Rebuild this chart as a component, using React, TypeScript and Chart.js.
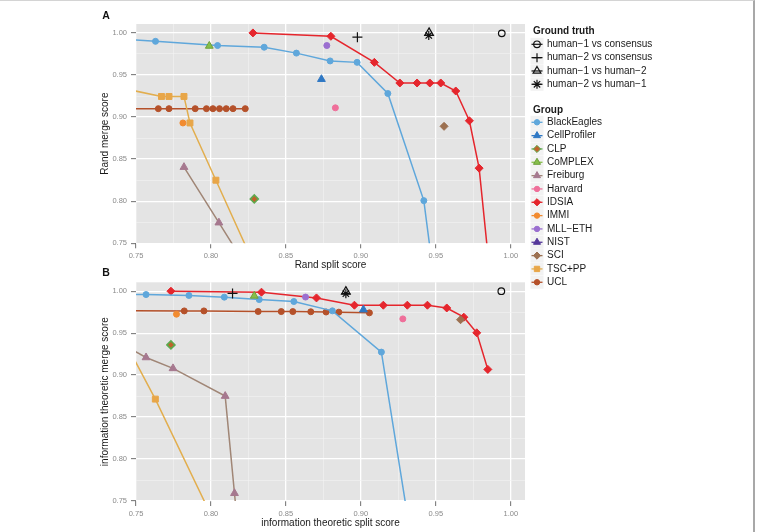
import React, { useEffect, useRef } from 'react';
import { Chart, registerables } from 'chart.js';

Chart.register(...registerables);

const FONT = '"Liberation Sans", "DejaVu Sans", Arial, sans-serif';

// ---------- axis ticks ----------
const majorTicks = [0.75, 0.8, 0.85, 0.9, 0.95, 1.0];
const minorTicks = [0.775, 0.825, 0.875, 0.925, 0.975];
const xRange = [0.75, 1.0095];
const yRange = [0.75, 1.0106];

// ---------- ground truth ----------
const gtNames = ['human−1 vs consensus', 'human−2 vs consensus', 'human−1 vs human−2', 'human−2 vs human−1'];
const gtA_x = [0.994, 0.8977, 0.9455, 0.9453];
const gtA_y = [0.9995, 0.995, 1.0, 0.997];
const gtB_x = [0.9937, 0.8144, 0.89, 0.89];
const gtB_y = [1.0, 0.9973, 0.9995, 0.997];

// ---------- groups ----------
const groupNames = ['BlackEagles', 'CellProfiler', 'CLP', 'CoMPLEX', 'Freiburg', 'Harvard', 'IDSIA', 'IMMI', 'MLL−ETH', 'NIST', 'SCI', 'TSC+PP', 'UCL'];

// Panel A: Rand split score (x) vs Rand merge score (y)
const blackEaglesA_x = [0.70, 0.763, 0.8044, 0.8355, 0.857, 0.8795, 0.8975, 0.918, 0.942, 0.9486];
const blackEaglesA_y = [0.9975, 0.990, 0.985, 0.983, 0.976, 0.9667, 0.965, 0.928, 0.8007, 0.71];
const cellProfilerA_x = [0.8737];
const cellProfilerA_y = [0.945];
const clpA_x = [0.8289];
const clpA_y = [0.8027];
const complexA_x = [0.7989];
const complexA_y = [0.9845];
const freiburgA_x = [0.782, 0.8053, 0.8245];
const freiburgA_y = [0.8405, 0.7745, 0.72];
const harvardA_x = [0.883];
const harvardA_y = [0.911];
const idsiaA_x = [0.828, 0.880, 0.909, 0.926, 0.9375, 0.946, 0.9533, 0.9633, 0.9724, 0.9789, 0.9857];
const idsiaA_y = [1.000, 0.996, 0.965, 0.9405, 0.9405, 0.9405, 0.9405, 0.931, 0.8956, 0.8393, 0.72];
const immiA_x = [0.7813];
const immiA_y = [0.893];
const mllA_x = [0.8773];
const mllA_y = [0.985];
const nistA_x: number[] = [];
const nistA_y: number[] = [];
const sciA_x = [0.9555];
const sciA_y = [0.889];
const tscA_x = [0.72, 0.767, 0.772, 0.782, 0.786, 0.8033, 0.830];
const tscA_y = [0.942, 0.9245, 0.9245, 0.9245, 0.893, 0.825, 0.72];
const uclA_x = [0.70, 0.7649, 0.772, 0.7895, 0.797, 0.8013, 0.8057, 0.8102, 0.8147, 0.8229];
const uclA_y = [0.91, 0.91, 0.91, 0.91, 0.91, 0.91, 0.91, 0.91, 0.91, 0.91];

// Panel B: information theoretic split score (x) vs merge score (y)
const blackEaglesB_x = [0.70, 0.7567, 0.7853, 0.8089, 0.8322, 0.8553, 0.881, 0.9137, 0.9322];
const blackEaglesB_y = [0.9975, 0.996, 0.9949, 0.9929, 0.990, 0.9877, 0.9766, 0.9274, 0.72];
const cellProfilerB_x = [0.9017];
const cellProfilerB_y = [0.978];
const clpB_x = [0.7733];
const clpB_y = [0.936];
const complexB_x = [0.8289];
const complexB_y = [0.9944];
const freiburgB_x = [0.73, 0.7567, 0.7747, 0.8095, 0.8157, 0.8178];
const freiburgB_y = [0.9477, 0.921, 0.908, 0.875, 0.7592, 0.72];
const harvardB_x = [0.928];
const harvardB_y = [0.967];
const idsiaB_x = [0.7733, 0.8337, 0.8704, 0.8957, 0.915, 0.931, 0.9444, 0.9573, 0.9687, 0.9773, 0.9847];
const idsiaB_y = [1.000, 0.9988, 0.992, 0.9833, 0.9833, 0.9833, 0.9833, 0.980, 0.969, 0.9504, 0.9068];
const immiB_x = [0.777];
const immiB_y = [0.9726];
const mllB_x = [0.8631];
const mllB_y = [0.993];
const nistB_x: number[] = [];
const nistB_y: number[] = [];
const sciB_x = [0.9665];
const sciB_y = [0.966];
const tscB_x = [0.74, 0.7629, 0.80];
const tscB_y = [0.9488, 0.8714, 0.7333];
const uclB_x = [0.70, 0.7822, 0.7953, 0.8315, 0.8469, 0.8546, 0.8666, 0.8768, 0.8853, 0.9057];
const uclB_y = [0.977, 0.9765, 0.9765, 0.9758, 0.9757, 0.9757, 0.9755, 0.9752, 0.975, 0.9742];

// ---------- styles ----------
const groupLineColors = ['#5FA7DB', '#2F78C4', '#5DAA4F', '#86BF4A', '#A08676', '#EF6F9A', '#E5262D', '#F28B30', '#9B6FD0', '#55389A', '#9C7050', '#E2AE4E', '#B5512A'];
const groupPointColors = ['#5FA7DB', '#2F78C4', '#C0622A', '#86BF4A', '#A6788F', '#EF6F9A', '#E5262D', '#F28B30', '#9B6FD0', '#55389A', '#9C7050', '#E8A648', '#B5512A'];
const groupPointBorders = ['#5FA7DB', '#2F78C4', '#5DAA4F', '#6E9F3A', '#A6788F', '#EF6F9A', '#E5262D', '#F28B30', '#9B6FD0', '#55389A', '#9C7050', '#E8A648', '#B5512A'];
const groupShapes = ['circle', 'triangle', 'rectRot', 'triangle', 'triangle', 'circle', 'rectRot', 'circle', 'circle', 'triangle', 'rectRot', 'rect', 'circle'];
const shapeRadius: Record<string, number> = { circle: 3, triangle: 4.5, rectRot: 4, rect: 4.2 };
const gtShapes = ['circle', 'cross', 'triangle', 'star'];
const gtRadius = [3.3, 5, 5, 4.5];

const seriesA: number[][][] = [
  [blackEaglesA_x, blackEaglesA_y], [cellProfilerA_x, cellProfilerA_y], [clpA_x, clpA_y], [complexA_x, complexA_y],
  [freiburgA_x, freiburgA_y], [harvardA_x, harvardA_y], [idsiaA_x, idsiaA_y], [immiA_x, immiA_y], [mllA_x, mllA_y],
  [nistA_x, nistA_y], [sciA_x, sciA_y], [tscA_x, tscA_y], [uclA_x, uclA_y],
];
const seriesB: number[][][] = [
  [blackEaglesB_x, blackEaglesB_y], [cellProfilerB_x, cellProfilerB_y], [clpB_x, clpB_y], [complexB_x, complexB_y],
  [freiburgB_x, freiburgB_y], [harvardB_x, harvardB_y], [idsiaB_x, idsiaB_y], [immiB_x, immiB_y], [mllB_x, mllB_y],
  [nistB_x, nistB_y], [sciB_x, sciB_y], [tscB_x, tscB_y], [uclB_x, uclB_y],
];

const isMajor = (v: number) => majorTicks.some((m) => Math.abs(m - v) < 1e-6);
const allTicks = [...majorTicks, ...minorTicks].sort((a, b) => a - b);

function buildDatasets(panel: 'A' | 'B') {
  const gx = panel === 'A' ? gtA_x : gtB_x;
  const gy = panel === 'A' ? gtA_y : gtB_y;
  const series = panel === 'A' ? seriesA : seriesB;
  const ds: any[] = [];
  gtNames.forEach((name, i) => {
    ds.push({
      label: name,
      data: [{ x: gx[i], y: gy[i] }],
      showLine: false,
      pointStyle: gtShapes[i],
      pointRadius: gtRadius[i],
      pointBorderColor: '#111111',
      pointBackgroundColor: 'rgba(0,0,0,0)',
      pointBorderWidth: 1.2,
      clip: 0,
    });
  });
  // single markers on top of lines
  const order = groupNames.map((_, i) => i).sort((a, b) => series[a][0].length - series[b][0].length);
  order.forEach((i) => {
    const [xs, ys] = series[i];
    ds.push({
      label: groupNames[i],
      data: xs.map((x, k) => ({ x, y: ys[k] })),
      showLine: xs.length > 1,
      borderColor: groupLineColors[i],
      borderWidth: 1.5,
      pointStyle: groupShapes[i],
      pointRadius: shapeRadius[groupShapes[i]],
      pointBackgroundColor: groupPointColors[i],
      pointBorderColor: groupPointBorders[i],
      pointBorderWidth: i === 2 ? 1.6 : 1,
      clip: 0,
    });
  });
  return ds;
}

function drawMarker(ctx: CanvasRenderingContext2D, shape: string, x: number, y: number, r: number, fill: string | null, stroke: string, lw: number) {
  ctx.beginPath();
  if (shape === 'circle') {
    ctx.arc(x, y, r, 0, Math.PI * 2);
  } else if (shape === 'triangle') {
    ctx.moveTo(x, y - r);
    ctx.lineTo(x + r * Math.sin((2 * Math.PI) / 3), y + r * 0.5);
    ctx.lineTo(x - r * Math.sin((2 * Math.PI) / 3), y + r * 0.5);
    ctx.closePath();
  } else if (shape === 'rectRot') {
    ctx.moveTo(x, y - r); ctx.lineTo(x + r, y); ctx.lineTo(x, y + r); ctx.lineTo(x - r, y); ctx.closePath();
  } else if (shape === 'rect') {
    const s = r * Math.SQRT1_2;
    ctx.rect(x - s, y - s, 2 * s, 2 * s);
  } else if (shape === 'cross') {
    ctx.moveTo(x - r, y); ctx.lineTo(x + r, y); ctx.moveTo(x, y - r); ctx.lineTo(x, y + r);
  } else if (shape === 'star') {
    ctx.moveTo(x - r, y); ctx.lineTo(x + r, y); ctx.moveTo(x, y - r); ctx.lineTo(x, y + r);
    const d = r * Math.SQRT1_2;
    ctx.moveTo(x - d, y - d); ctx.lineTo(x + d, y + d); ctx.moveTo(x - d, y + d); ctx.lineTo(x + d, y - d);
  }
  if (fill) { ctx.fillStyle = fill; ctx.fill(); }
  ctx.strokeStyle = stroke; ctx.lineWidth = lw; ctx.stroke();
}

function drawLegend(ctx: CanvasRenderingContext2D) {
  const keyL = 530.5, keyW = 13, cx = keyL + keyW / 2, textX = 547;
  const step = 13.33;
  ctx.save();
  ctx.textBaseline = 'middle';
  ctx.textAlign = 'left';
  ctx.fillStyle = '#1a1a1a';
  ctx.font = `bold 10px ${FONT}`;
  ctx.fillText('Ground truth', 533, 31);
  gtNames.forEach((name, i) => {
    const y = 44.3 + i * step;
    ctx.fillStyle = '#F2F2F2';
    ctx.fillRect(keyL, y - keyW / 2, keyW, keyW);
    ctx.beginPath(); ctx.moveTo(keyL + 1, y); ctx.lineTo(keyL + keyW - 1, y);
    ctx.strokeStyle = '#111'; ctx.lineWidth = 1.2; ctx.stroke();
    drawMarker(ctx, gtShapes[i], cx, y, gtShapes[i] === 'circle' ? 3.3 : 4.5, null, '#111', 1.2);
    ctx.fillStyle = '#1a1a1a';
    ctx.font = `10px ${FONT}`;
    ctx.fillText(name, textX, y);
  });
  ctx.font = `bold 10px ${FONT}`;
  ctx.fillStyle = '#1a1a1a';
  ctx.fillText('Group', 533, 110);
  groupNames.forEach((name, i) => {
    const y = 122.3 + i * step;
    ctx.fillStyle = '#F2F2F2';
    ctx.fillRect(keyL, y - keyW / 2, keyW, keyW);
    ctx.beginPath(); ctx.moveTo(keyL + 1, y); ctx.lineTo(keyL + keyW - 1, y);
    ctx.strokeStyle = groupLineColors[i]; ctx.lineWidth = 1.3; ctx.stroke();
    const sh = groupShapes[i];
    drawMarker(ctx, sh, cx, y, shapeRadius[sh] * 0.9, groupPointColors[i], groupPointBorders[i], 1);
    ctx.fillStyle = '#1a1a1a';
    ctx.font = `10px ${FONT}`;
    ctx.fillText(name, textX, y);
  });
  ctx.restore();
}

type PanelProps = {
  panel: 'A' | 'B';
  top: number;
  height: number;
  padTop: number;
  axisH: number;
  xTitle: string;
  yTitle: string;
  xTitlePad: number;
  tagY: number;
  legend: boolean;
};

function Panel(p: PanelProps) {
  const ref = useRef<HTMLCanvasElement>(null);
  useEffect(() => {
    const plugin = {
      id: 'decor' + p.panel,
      beforeDraw(chart: any) {
        const { ctx, chartArea } = chart;
        ctx.save();
        ctx.fillStyle = '#E4E4E4';
        ctx.fillRect(chartArea.left, chartArea.top, chartArea.right - chartArea.left, chartArea.bottom - chartArea.top);
        ctx.restore();
      },
      afterDraw(chart: any) {
        const ctx = chart.ctx as CanvasRenderingContext2D;
        ctx.save();
        ctx.fillStyle = '#111';
        ctx.font = `bold 10.5px ${FONT}`;
        ctx.textAlign = 'center';
        ctx.textBaseline = 'middle';
        ctx.fillText(p.panel, 106, p.tagY);
        ctx.restore();
        if (p.legend) drawLegend(ctx);
      },
    };
    const tickFont = { family: FONT, size: 7.5 };
    const titleFont = { family: FONT, size: 10 };
    const grid = {
      color: (c: any) => (c.tick && isMajor(c.tick.value) ? '#FFFFFF' : '#F3F3F3'),
      lineWidth: (c: any) => (c.tick && isMajor(c.tick.value) ? 1.3 : 0.6),
      drawTicks: true,
      tickLength: 5,
      tickWidth: 1,
      tickColor: (c: any) => (c.tick && isMajor(c.tick.value) ? '#6f6f6f' : 'rgba(0,0,0,0)'),
    };
    const chart = new Chart(ref.current!, {
      type: 'scatter',
      data: { datasets: buildDatasets(p.panel) },
      plugins: [plugin],
      options: {
        animation: false,
        responsive: false,
        devicePixelRatio: 1,
        layout: { padding: { left: 0, right: 759 - 525, top: p.padTop, bottom: 0 } },
        plugins: { legend: { display: false }, tooltip: { enabled: false } },
        scales: {
          x: {
            type: 'linear',
            min: xRange[0],
            max: xRange[1],
            afterBuildTicks: (s: any) => { s.ticks = allTicks.map((v) => ({ value: v })); },
            afterFit: (s: any) => { s.height = p.axisH; },
            ticks: {
              autoSkip: false, maxRotation: 0, padding: 3, color: '#8a8a8a', font: tickFont,
              callback: (v: any) => (isMajor(Number(v)) ? Number(v).toFixed(2) : ''),
            },
            grid,
            border: { display: false },
            title: { display: true, text: p.xTitle, color: '#1a1a1a', font: titleFont, padding: { top: 0, bottom: p.xTitlePad } },
          },
          y: {
            type: 'linear',
            min: yRange[0],
            max: yRange[1],
            afterBuildTicks: (s: any) => { s.ticks = allTicks.map((v) => ({ value: v })); },
            afterFit: (s: any) => { s.width = 136; },
            ticks: {
              autoSkip: false, padding: 4, color: '#8a8a8a', font: tickFont,
              callback: (v: any) => (isMajor(Number(v)) ? Number(v).toFixed(2) : ''),
            },
            grid,
            border: { display: false },
            title: { display: true, text: p.yTitle, color: '#1a1a1a', font: titleFont, padding: { top: 99, bottom: 0 } },
          },
        },
      } as any,
    });
    return () => chart.destroy();
  }, []);
  return (
    <canvas
      ref={ref}
      width={759}
      height={p.height}
      style={{ position: 'absolute', left: 0, top: p.top, width: 759, height: p.height }}
    />
  );
}

export default function App() {
  return (
    <div style={{ position: 'absolute', left: 0, top: 0, width: 759, height: 532, background: '#fff', overflow: 'hidden' }}>
      <div
        style={{
          position: 'absolute', left: 0, top: 0, width: 755, height: 532, boxSizing: 'border-box',
          borderTop: '1px solid #d4d4d4', borderRight: '2px solid #a8a8a8',
        }}
      />
      <Panel panel="A" top={0} height={300} padTop={24} axisH={56.7} xTitle="Rand split score" yTitle="Rand merge score" xTitlePad={28.3} tagY={15.8} legend={true} />
      <Panel panel="B" top={262} height={270} padTop={20.3} axisH={31} xTitle="information theoretic split score" yTitle="information theoretic merge score" xTitlePad={2.7} tagY={11} legend={false} />
    </div>
  );
}
